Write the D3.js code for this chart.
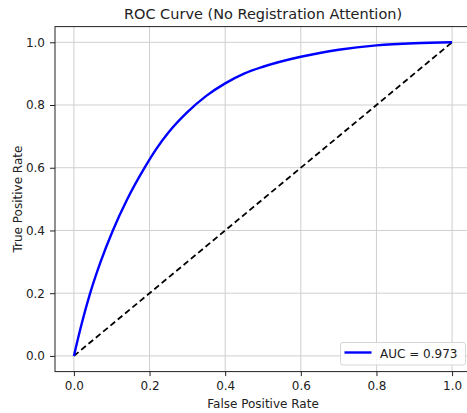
<!DOCTYPE html>
<html>
<head>
<meta charset="utf-8">
<script src="https://cdn.jsdelivr.net/npm/d3@7"></script>
<style>
  body { margin: 0; background: #fff; }
  svg { display: block; font-family: 'DejaVu Sans', sans-serif; }
</style>
</head>
<body>
<svg></svg>
<script>
// ROC curve values
const fpr = [0, 0.02, 0.042, 0.07, 0.103, 0.14, 0.187, 0.218, 0.25, 0.3, 0.35, 0.4, 0.45, 0.5, 0.6, 0.65, 0.7, 0.8, 0.9, 1.0];
const tpr = [0, 0.1, 0.196, 0.298, 0.4, 0.497, 0.6, 0.66, 0.712, 0.777, 0.829, 0.869, 0.9, 0.922, 0.954, 0.966, 0.976, 0.99, 0.997, 1.0];
const chance = [0, 1];
const ticks = [0, 0.2, 0.4, 0.6, 0.8, 1.0];
const aucLabel = 'AUC = 0.973';

const size = {w: 467, h: 413};
const plot = {l: 55, r: 471, t: 26.6, b: 371.6};

const svg = d3.select('svg')
    .attr('width', size.w)
    .attr('height', size.h);

const x = d3.scaleLinear().domain([-0.05, 1.05]).range([plot.l, plot.r]);
const y = d3.scaleLinear().domain([-0.05, 1.05]).range([plot.b, plot.t]);

// grid
const grid = svg.append('g').attr('stroke', '#cfcfcf').attr('stroke-width', 1);
grid.selectAll('.gx').data(ticks).join('line')
    .attr('x1', d => x(d)).attr('x2', d => x(d))
    .attr('y1', plot.t).attr('y2', plot.b);
grid.selectAll('.gy').data(ticks).join('line')
    .attr('y1', d => y(d)).attr('y2', d => y(d))
    .attr('x1', plot.l).attr('x2', plot.r);

// chance line
svg.append('line')
    .attr('x1', x(chance[0])).attr('y1', y(chance[0]))
    .attr('x2', x(chance[1])).attr('y2', y(chance[1]))
    .attr('stroke', '#000')
    .attr('stroke-width', 1.8)
    .attr('stroke-dasharray', '6,3.5');

// roc curve
const pts = fpr.map((f, i) => [f, tpr[i]]);
const line = d3.line()
    .x(d => x(d[0]))
    .y(d => y(d[1]))
    .curve(d3.curveMonotoneX);

svg.append('path')
    .datum(pts)
    .attr('d', line)
    .attr('fill', 'none')
    .attr('stroke', '#0000ff')
    .attr('stroke-width', 2.4);

// axes
const fmt = d3.format('.1f');
const xAxis = svg.append('g')
    .attr('transform', `translate(0,${plot.b})`)
    .call(d3.axisBottom(x).tickValues(ticks).tickFormat(fmt).tickSize(4.5).tickPadding(5.5));
const yAxis = svg.append('g')
    .attr('transform', `translate(${plot.l},0)`)
    .call(d3.axisLeft(y).tickValues(ticks).tickFormat(fmt).tickSize(5).tickPadding(5));

[xAxis, yAxis].forEach(a => {
    a.select('.domain').remove();
    a.selectAll('.tick line').attr('stroke', '#222').attr('stroke-width', 1);
    a.selectAll('.tick text')
        .attr('font-family', 'DejaVu Sans, sans-serif')
        .attr('font-size', 12)
        .attr('fill', '#222');
});

// frame
svg.append('rect')
    .attr('x', plot.l).attr('y', plot.t)
    .attr('width', plot.r - plot.l).attr('height', plot.b - plot.t)
    .attr('fill', 'none')
    .attr('stroke', '#222')
    .attr('stroke-width', 1);

// titles
svg.append('text')
    .attr('x', (plot.l + plot.r) / 2).attr('y', 19)
    .attr('text-anchor', 'middle')
    .attr('font-size', 14.5)
    .attr('fill', '#222')
    .text('ROC Curve (No Registration Attention)');

svg.append('text')
    .attr('x', (plot.l + plot.r) / 2).attr('y', 407.5)
    .attr('text-anchor', 'middle')
    .attr('font-size', 12)
    .attr('fill', '#222')
    .text('False Positive Rate');

svg.append('text')
    .attr('transform', `translate(22,${(plot.t + plot.b) / 2}) rotate(-90)`)
    .attr('text-anchor', 'middle')
    .attr('font-size', 12)
    .attr('fill', '#222')
    .text('True Positive Rate');

// legend
const leg = svg.append('g').attr('transform', 'translate(340.5,342.5)');
leg.append('rect')
    .attr('width', 125).attr('height', 22.5)
    .attr('rx', 2.5)
    .attr('fill', 'rgba(255,255,255,0.85)')
    .attr('stroke', '#d6d6d6')
    .attr('stroke-width', 1);
leg.append('line')
    .attr('x1', 4).attr('x2', 31)
    .attr('y1', 10).attr('y2', 10)
    .attr('stroke', '#0000ff')
    .attr('stroke-width', 2.4);
leg.append('text')
    .attr('x', 39.5).attr('y', 15)
    .attr('font-size', 12)
    .attr('fill', '#222')
    .text(aucLabel);
</script>
</body>
</html>
